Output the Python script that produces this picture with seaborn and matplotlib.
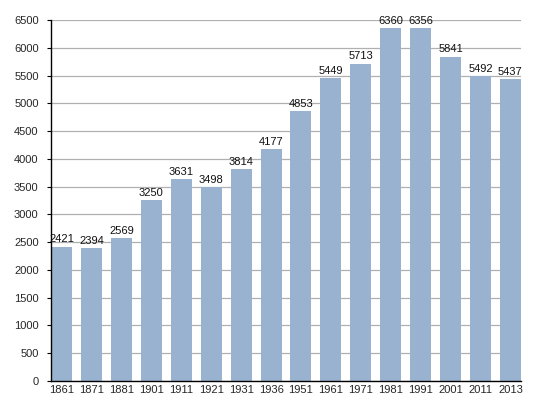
import matplotlib
matplotlib.use("Agg")
import matplotlib.pyplot as plt
import seaborn as sns
import pandas as pd

years = ["1861", "1871", "1881", "1901", "1911", "1921", "1931", "1936",
         "1951", "1961", "1971", "1981", "1991", "2001", "2011", "2013"]
population = [2421, 2394, 2569, 3250, 3631, 3498, 3814, 4177,
              4853, 5449, 5713, 6360, 6356, 5841, 5492, 5437]
yticks = list(range(0, 6501, 500))

sns.set_theme(style="white")
plt.rcParams["font.family"] = ["Liberation Sans", "DejaVu Sans"]

df = pd.DataFrame({"year": years, "pop": population})

fig = plt.figure(figsize=(5.5, 4), dpi=100)
ax = fig.add_axes([0.093, 0.0475, 0.854, 0.9025])

sns.barplot(data=df, x="year", y="pop", color="#98b2cf", width=0.7,
            saturation=1, edgecolor="none", ax=ax, zorder=2)

# value labels on top of the bars
for i, v in enumerate(population):
    ax.text(i, v + 40, str(v), ha="center", va="bottom", fontsize=8,
            color="#111111", zorder=3)

ax.set_ylim(0, 6500)
ax.set_xlim(-0.35, len(years) - 1 + 0.35)
ax.set_yticks(yticks)
ax.yaxis.grid(True, color="#b0b0b0", linewidth=0.9, zorder=0)
ax.set_axisbelow(True)
ax.set_xlabel("")
ax.set_ylabel("")

ax.spines[["top", "right"]].set_visible(False)
for s in ["left", "bottom"]:
    ax.spines[s].set_color("black")
    ax.spines[s].set_linewidth(1.0)

ax.tick_params(axis="y", length=3, width=0.8, color="black", labelsize=8,
               pad=6, left=True)
ax.tick_params(axis="x", length=0, labelsize=8, pad=3)

fig.savefig("out.png", dpi=100)
